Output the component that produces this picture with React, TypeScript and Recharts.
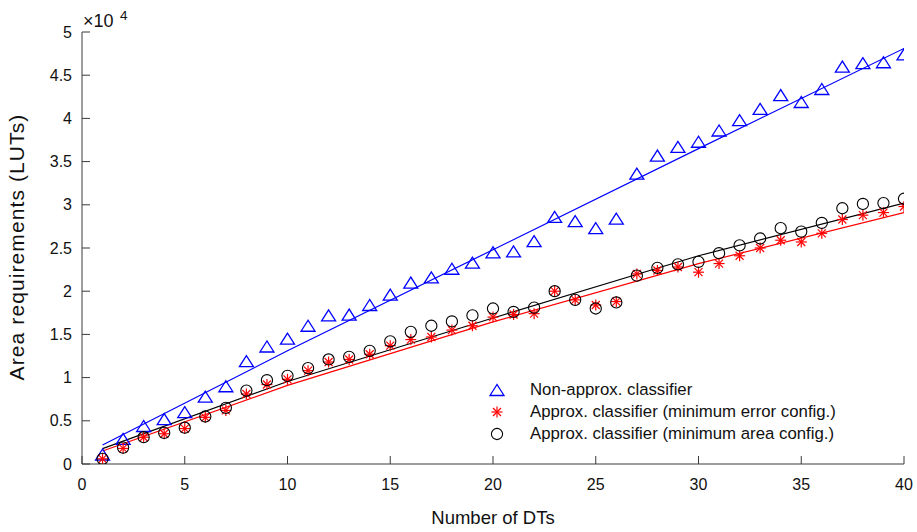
import { ScatterChart, Scatter, XAxis, YAxis, Legend } from "recharts";

// x = number of DTs, y = area in units of 10^4 LUTs
const dts = Array.from({ length: 40 }, (_, i) => i + 1);

const nonApprox = [
  0.11, 0.29, 0.44, 0.52, 0.6, 0.78, 0.9, 1.19, 1.36, 1.45,
  1.6, 1.72, 1.73, 1.84, 1.96, 2.1, 2.16, 2.26, 2.33, 2.45,
  2.46, 2.58, 2.86, 2.81, 2.73, 2.84, 3.36, 3.57, 3.67, 3.73,
  3.86, 3.98, 4.11, 4.27, 4.19, 4.34, 4.6, 4.64, 4.65, 4.74,
];

const minError = [
  0.06, 0.18, 0.31, 0.35, 0.41, 0.54, 0.62, 0.81, 0.92, 0.98,
  1.08, 1.18, 1.21, 1.27, 1.37, 1.44, 1.47, 1.55, 1.6, 1.7,
  1.73, 1.74, 2.0, 1.9, 1.84, 1.88, 2.2, 2.24, 2.28, 2.22,
  2.32, 2.41, 2.5, 2.59, 2.57, 2.67, 2.83, 2.88, 2.91, 2.98,
];

const minArea = [
  0.06, 0.19, 0.31, 0.36, 0.42, 0.55, 0.65, 0.85, 0.97, 1.02,
  1.11, 1.21, 1.24, 1.31, 1.42, 1.53, 1.6, 1.65, 1.72, 1.8,
  1.76, 1.81, 2.0, 1.9, 1.8, 1.87, 2.18, 2.27, 2.31, 2.34,
  2.44, 2.53, 2.61, 2.73, 2.69, 2.79, 2.96, 3.01, 3.02, 3.07,
];

// fitted trend curves, values at a few knots
const fitX = [1, 10, 20, 30, 40];
const fitNonApprox = [0.22, 1.31, 2.48, 3.65, 4.81];
const fitMinError = [0.15, 0.91, 1.645, 2.32, 2.91];
const fitMinArea = [0.178, 0.955, 1.69, 2.41, 3.02];

const xTicks = [0, 5, 10, 15, 20, 25, 30, 35, 40];
const yTicks = [0, 0.5, 1, 1.5, 2, 2.5, 3, 3.5, 4, 4.5, 5];

const legendLabels = [
  "Non-approx. classifier",
  "Approx. classifier (minimum error config.)",
  "Approx. classifier (minimum area config.)",
];

const BLUE = "#0000ff";
const RED = "#ff0000";
const FRAME = "#3a3a3a";
const FONT = "'Liberation Sans', Arial, sans-serif";

const toPoints = (xs: number[], ys: number[]) => xs.map((x, i) => ({ x, y: ys[i] }));

function Triangle({ cx, cy }: any) {
  if (cx == null || cy == null) return null;
  return (
    <polygon
      points={`${cx},${cy - 5.5} ${cx - 7},${cy + 5.5} ${cx + 7},${cy + 5.5}`}
      fill="none"
      stroke={BLUE}
      strokeWidth={1.3}
    />
  );
}

function Star({ cx, cy }: any) {
  if (cx == null || cy == null) return null;
  const r = 5.5;
  const d = 4;
  return (
    <g stroke={RED} strokeWidth={1.2}>
      <line x1={cx} y1={cy - r} x2={cx} y2={cy + r} />
      <line x1={cx - r} y1={cy} x2={cx + r} y2={cy} />
      <line x1={cx - d} y1={cy - d} x2={cx + d} y2={cy + d} />
      <line x1={cx - d} y1={cy + d} x2={cx + d} y2={cy - d} />
    </g>
  );
}

function Ring({ cx, cy }: any) {
  if (cx == null || cy == null) return null;
  return <circle cx={cx} cy={cy} r={5.6} fill="none" stroke="#000" strokeWidth={1.1} />;
}

const NoDot = () => <g />;

function BottomTick({ x, y, payload }: any) {
  return (
    <g>
      <line x1={x} y1={y} x2={x} y2={y - 8} stroke={FRAME} />
      <text x={x} y={y + 26} textAnchor="middle" fontSize={16} fill="#111" fontFamily={FONT}>
        {payload.value}
      </text>
    </g>
  );
}

function TopTick({ x, y }: any) {
  return <line x1={x} y1={y} x2={x} y2={y + 8} stroke={FRAME} />;
}

function LeftTick({ x, y, payload }: any) {
  return (
    <g>
      <line x1={x} y1={y} x2={x + 8} y2={y} stroke={FRAME} />
      <text x={x - 10} y={y + 5.5} textAnchor="end" fontSize={16} fill="#111" fontFamily={FONT}>
        {String(payload.value)}
      </text>
    </g>
  );
}

function RightTick({ x, y }: any) {
  return <line x1={x} y1={y} x2={x - 8} y2={y} stroke={FRAME} />;
}

function LegendBox() {
  const icons = [
    <Triangle cx={12} cy={10} />,
    <Star cx={12} cy={10} />,
    <Ring cx={12} cy={10} />,
  ];
  return (
    <div style={{ fontFamily: FONT, fontSize: 16.8, color: "#111" }}>
      {legendLabels.map((label, i) => (
        <div key={label} style={{ display: "flex", alignItems: "center", height: 22 }}>
          <svg width={24} height={20} style={{ marginRight: 21 }}>
            {icons[i]}
          </svg>
          <span>{label}</span>
        </div>
      ))}
    </div>
  );
}

export default function App() {
  return (
    <div style={{ position: "absolute", left: 0, top: 0, width: 917, height: 532, background: "#fff" }}>
      <ScatterChart width={917} height={532} margin={{ top: 32, right: 13, bottom: 0, left: 0 }}>
        <XAxis
          dataKey="x"
          type="number"
          domain={[0, 40]}
          ticks={xTicks}
          height={68}
          tickSize={0}
          tickMargin={0}
          tick={<BottomTick />}
          axisLine={{ stroke: FRAME }}
          label={(props: any) => {
            const vb = props.viewBox;
            return (
              <text
                x={vb.x + vb.width / 2}
                y={524}
                textAnchor="middle"
                fontSize={18.5}
                fill="#111"
                fontFamily={FONT}
              >
                Number of DTs
              </text>
            );
          }}
          allowDataOverflow
        />
        <XAxis
          xAxisId="top"
          orientation="top"
          type="number"
          domain={[0, 40]}
          ticks={xTicks}
          height={0}
          tickSize={0}
          tickMargin={0}
          tick={<TopTick />}
          axisLine={{ stroke: FRAME }}
          allowDataOverflow
        />
        <YAxis
          dataKey="y"
          type="number"
          domain={[0, 5]}
          ticks={yTicks}
          width={82}
          tickSize={0}
          tickMargin={0}
          tick={<LeftTick />}
          axisLine={{ stroke: FRAME }}
          label={() => (
            <text
              x={24}
              y={247}
              transform="rotate(-90 24 247)"
              textAnchor="middle"
              fontSize={21}
              letterSpacing={1.1}
              fill="#111"
              fontFamily={FONT}
            >
              Area requirements (LUTs)
            </text>
          )}
          allowDataOverflow
        />
        <YAxis
          yAxisId="right"
          orientation="right"
          type="number"
          domain={[0, 5]}
          ticks={yTicks}
          width={0}
          tickSize={0}
          tickMargin={0}
          tick={<RightTick />}
          axisLine={{ stroke: FRAME }}
          allowDataOverflow
        />

        <Scatter data={toPoints(fitX, fitNonApprox)} line={{ stroke: BLUE, strokeWidth: 1.2 }} shape={NoDot} isAnimationActive={false} legendType="none" />
        <Scatter data={toPoints(fitX, fitMinError)} line={{ stroke: RED, strokeWidth: 1.2 }} shape={NoDot} isAnimationActive={false} legendType="none" />
        <Scatter data={toPoints(fitX, fitMinArea)} line={{ stroke: "#000", strokeWidth: 1.2 }} shape={NoDot} isAnimationActive={false} legendType="none" />

        <Scatter data={toPoints(dts, nonApprox)} shape={<Triangle />} isAnimationActive={false} />
        <Scatter data={toPoints(dts, minError)} shape={<Star />} isAnimationActive={false} />
        <Scatter data={toPoints(dts, minArea)} shape={<Ring />} isAnimationActive={false} />

        <Legend
          layout="vertical"
          align="center"
          verticalAlign="middle"
          content={<LegendBox />}
          wrapperStyle={{ position: "absolute", left: 485, top: 379, width: 420 }}
        />
      </ScatterChart>
      <svg width={80} height={32} style={{ position: "absolute", left: 80, top: 0 }}>
        <text x={3} y={27} fontFamily={FONT} fontSize={18} fill="#111">
          ×10
        </text>
        <text x={40} y={20} fontFamily={FONT} fontSize={13.5} fill="#111">
          4
        </text>
      </svg>
    </div>
  );
}
